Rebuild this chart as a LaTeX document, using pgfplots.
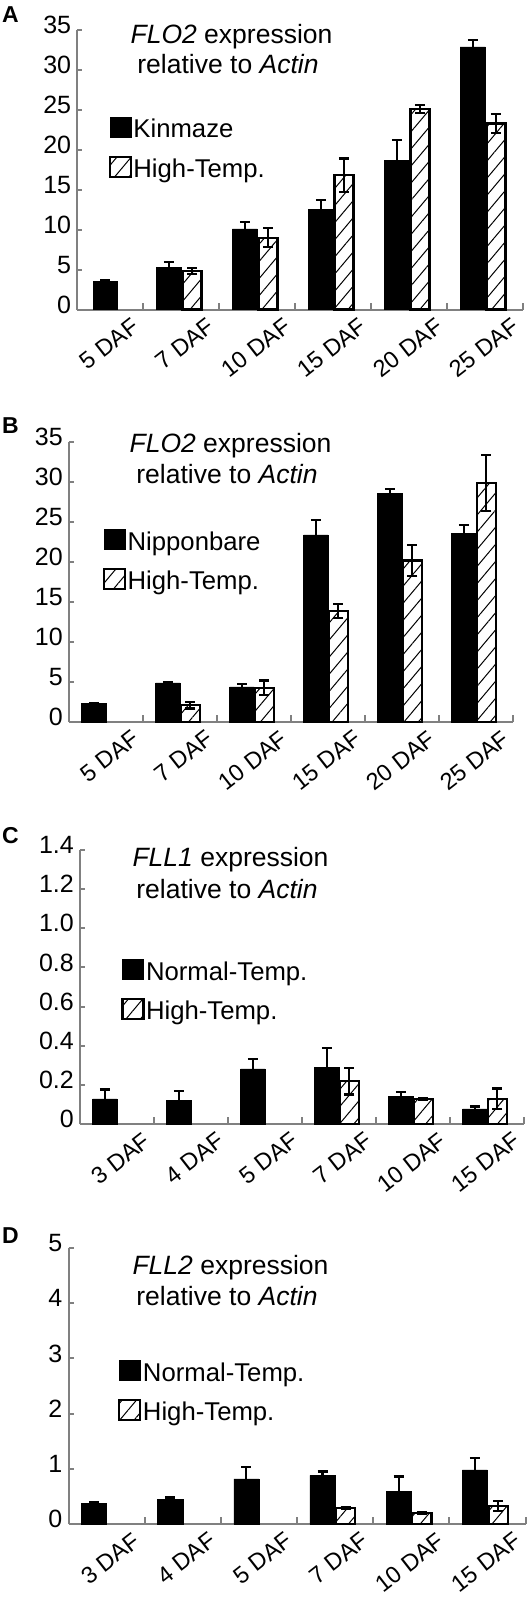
\documentclass[border=0pt]{standalone}
\usepackage{fontspec}
\setmainfont{Liberation Sans}
\usepackage{pgfplots}
\pgfplotsset{compat=1.18}
\usetikzlibrary{patterns.meta}
\definecolor{axgray}{RGB}{128,128,128}
\newcommand{\fs}[1]{\fontsize{#1}{#1}\selectfont}

\pgfplotsset{
  panel/.style={
    scale only axis,
    ybar,
    axis x line*=bottom, axis y line*=left,
    axis line style={draw=axgray, line width=2pt},
    xtick={0,...,5},
    minor xtick={0.5,1.5,...,5.5},
    major x tick style={draw=none},
    minor x tick style={draw=axgray, line width=2pt},
    minor tick length=7pt,
    major tick length=5pt,
    major y tick style={draw=axgray, line width=2pt},
    tick align=inside,
    ymin=0, xmax=5.5,
    ticklabel style={font=\fs{25}},
    /pgf/number format/assume math mode=true,
    yticklabel style={inner sep=0pt, xshift=-6pt, yshift=5pt},
    xticklabel style={inner sep=0pt, xshift=25pt, yshift=-7pt, rotate=38, anchor=north east, font=\fs{23.5}},
    legend cell align=left,
    legend image code/.code={\draw[##1] (0pt,-8pt) rectangle (21pt,12pt);},
    legend style={draw=none, fill=none, font=\fs{25.7}, anchor=north west, inner sep=0pt, row sep=15pt, nodes={inner sep=1.5pt}},
    clip=false,
  },
  errs/.style={error bars/y dir=both, error bars/y explicit,
     error bars/error bar style={line width=2.2pt, black},
     error bars/error mark options={rotate=90, line width=2.2pt, mark size=5pt, black}},
  blk/.style={fill=black, draw=black, line width=0.5pt, bar width=0.33, bar shift=-0.165, errs},
  hat/.style={draw=black, line width=2.2pt, pattern={Lines[angle=50,distance=11pt,line width=1pt]}, pattern color=black, bar width=0.25, bar shift=0.14, errs},
}

\begin{document}
\begin{tikzpicture}
\useasboundingbox (0pt,0pt) rectangle (531pt,-1597pt);

% ---------------- A ----------------
\begin{axis}[panel, at={(77.3pt,-309.5pt)}, anchor=south west,
  width=446pt, height=279.5pt, xmin=-0.37, ymax=35, ytick={0,5,...,35},
  xticklabels={5 DAF,7 DAF,10 DAF,15 DAF,20 DAF,25 DAF},
  legend style={at={(0.070,0.690)}}]
\addplot[blk, bar shift=0, bar width=0.32, forget plot] table[x=x,y=y,y error=e] {
x y e
0 3.5 0.2
};
\addplot[blk] table[x=x,y=y,y error=e] {
x y e
1 5.3 0.6
2 10.1 0.9
3 12.5 1.2
4 18.7 2.5
5 32.9 0.8
};
\addplot[hat] table[x=x,y=y,y error=e] {
x y e
1 4.8 0.4
2 9.0 1.2
3 16.8 2.1
4 25.1 0.5
5 23.3 1.2
};
\legend{Kinmaze,High-Temp.}
\end{axis}

% ---------------- B ----------------
\begin{axis}[panel, at={(69pt,-722pt)}, anchor=south west,
  width=444pt, height=280pt, xmin=-0.5, ymax=35, ytick={0,5,...,35},
  xticklabels={5 DAF,7 DAF,10 DAF,15 DAF,20 DAF,25 DAF},
  legend style={at={(0.076,0.689)}}]
\addplot[blk] table[x=x,y=y,y error=e] {
x y e
0 2.3 0.05
1 4.9 0.05
2 4.4 0.35
3 23.4 1.9
4 28.6 0.5
5 23.6 1.0
};
\addplot[hat] table[x=x,y=y,y error=e] {
x y e
1 2.1 0.4
2 4.3 0.9
3 13.9 0.85
4 20.2 1.95
5 29.9 3.5
};
\legend{Nipponbare,High-Temp.}
\end{axis}

% ---------------- C ----------------
\begin{axis}[panel, at={(80pt,-1124pt)}, anchor=south west,
  width=444pt, height=274pt, xmin=-0.5, ymax=1.4, ytick={0,0.2,...,1.4},
  yticklabels={0,0.2,0.4,0.6,0.8,1.0,1.2,1.4},
  xticklabels={3 DAF,4 DAF,5 DAF,7 DAF,10 DAF,15 DAF},
  legend style={at={(0.0926,0.602)}}]
\addplot[blk] table[x=x,y=y,y error=e] {
x y e
0 0.128 0.048
1 0.119 0.048
2 0.282 0.05
3 0.289 0.10
4 0.141 0.022
5 0.077 0.012
};
\addplot[hat] table[x=x,y=y,y error=e] {
x y e
3 0.218 0.067
4 0.129 0.005
5 0.128 0.053
};
\legend{Normal-Temp.,High-Temp.}
\end{axis}

% ---------------- D ----------------
\begin{axis}[panel, at={(68.5pt,-1524pt)}, anchor=south west,
  width=457pt, height=276pt, xmin=-0.5, ymax=5, ytick={0,1,...,5},
  xticklabels={3 DAF,4 DAF,5 DAF,7 DAF,10 DAF,15 DAF},
  legend style={at={(0.1085,0.594)}}]
\addplot[blk] table[x=x,y=y,y error=e] {
x y e
0 0.38 0.01
1 0.45 0.03
2 0.82 0.22
3 0.88 0.07
4 0.59 0.27
5 0.98 0.22
};
\addplot[hat] table[x=x,y=y,y error=e] {
x y e
3 0.29 0.02
4 0.20 0.015
5 0.32 0.09
};
\legend{Normal-Temp.,High-Temp.}
\end{axis}

% panel letters
\node[font=\bfseries\fs{23}, anchor=base west, inner sep=0pt] at (2pt,-22.7pt) {A};
\node[font=\bfseries\fs{23}, anchor=base west, inner sep=0pt] at (2pt,-433.3pt) {B};
\node[font=\bfseries\fs{23}, anchor=base west, inner sep=0pt] at (2pt,-843.3pt) {C};
\node[font=\bfseries\fs{23}, anchor=base west, inner sep=0pt] at (2pt,-1243.3pt) {D};

% titles
\node[font=\fs{26.5}, anchor=base] at (231.5pt,-44pt) {\textit{FLO2} expression};
\node[font=\fs{26.5}, anchor=base] at (228pt,-74pt) {relative to \textit{Actin}};
\node[font=\fs{26.5}, anchor=base] at (230.5pt,-452pt) {\textit{FLO2} expression};
\node[font=\fs{26.5}, anchor=base] at (227pt,-483pt) {relative to \textit{Actin}};
\node[font=\fs{26.5}, anchor=base] at (230.5pt,-866pt) {\textit{FLL1} expression};
\node[font=\fs{26.5}, anchor=base] at (227pt,-898pt) {relative to \textit{Actin}};
\node[font=\fs{26.5}, anchor=base] at (230.5pt,-1274pt) {\textit{FLL2} expression};
\node[font=\fs{26.5}, anchor=base] at (227pt,-1305pt) {relative to \textit{Actin}};
\end{tikzpicture}
\end{document}
